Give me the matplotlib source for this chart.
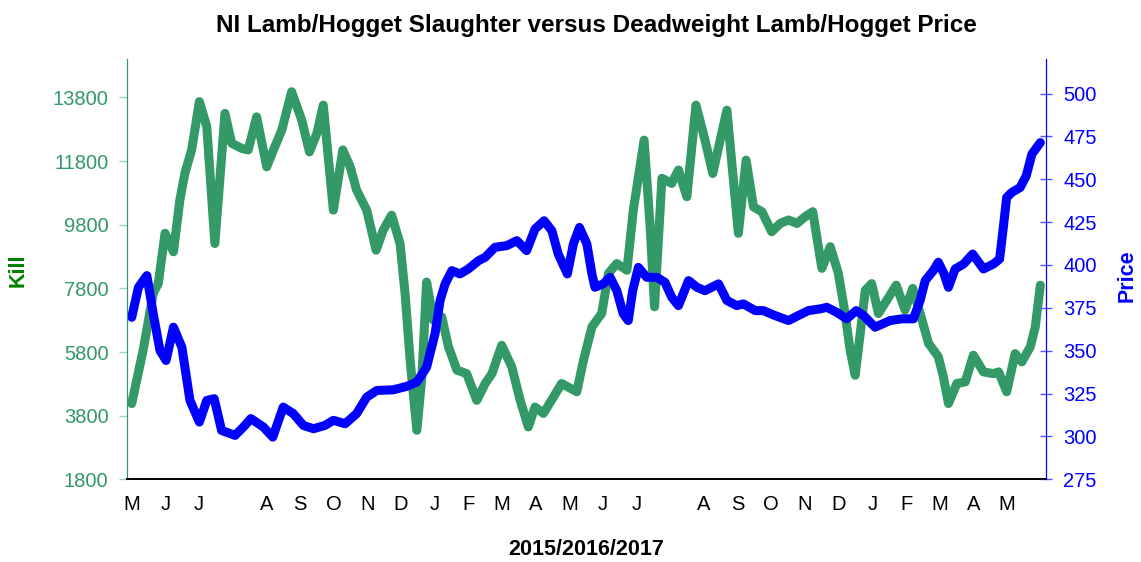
import matplotlib
matplotlib.use("Agg")
import matplotlib.pyplot as plt

plt.rcParams['font.family'] = ['Liberation Sans', 'DejaVu Sans']

GREEN = '#339966'
BLUE = '#0000ff'

# month label slots along the category axis (two slots carry no label)
month_labels = ['M', 'J', 'J', '', 'A', 'S', 'O', 'N', 'D', 'J', 'F', 'M', 'A',
                'M', 'J', 'J', '', 'A', 'S', 'O', 'N', 'D', 'J', 'F', 'M', 'A', 'M']

# lamb/hogget kill, position in month slots
kill_x = [0.00, 0.34, 0.64, 0.79, 0.99, 1.24, 1.43, 1.58, 1.78, 2.01, 2.23, 2.47,
          2.77, 2.97, 3.27, 3.46, 3.71, 4.01, 4.21, 4.46, 4.75, 5.05, 5.28, 5.50,
          5.69, 5.99, 6.27, 6.49, 6.68, 6.98, 7.26, 7.47, 7.72, 7.97, 8.12, 8.27,
          8.47, 8.62, 8.76, 8.96, 9.21, 9.41, 9.66, 9.95, 10.25, 10.50, 10.70, 10.99,
          11.29, 11.54, 11.78, 11.98, 12.23, 12.53, 12.77, 13.22, 13.42, 13.67, 13.96, 14.16,
          14.41, 14.71, 14.90, 15.22, 15.40, 15.53, 15.75, 16.04, 16.24, 16.49, 16.76, 17.03,
          17.26, 17.48, 17.68, 18.02, 18.25, 18.47, 18.72, 19.01, 19.26, 19.51, 19.76, 20.00,
          20.23, 20.50, 20.75, 20.99, 21.19, 21.34, 21.49, 21.64, 21.79, 21.98, 22.18, 22.43,
          22.71, 22.97, 23.20, 23.42, 23.67, 23.96, 24.11, 24.26, 24.51, 24.76, 25.00, 25.30,
          25.60, 25.75, 25.99, 26.24, 26.44, 26.69, 26.84, 26.99]
kill = [4180, 5860, 7640, 7960, 9530, 8950, 10575, 11420, 12150, 13670, 12880, 9210,
        13300, 12360, 12200, 12150, 13190, 11620, 12150, 12780, 13980, 13090, 12090, 12670,
        13560, 10260, 12150, 11620, 10890, 10260, 9000, 9630, 10100, 9210, 7640, 5540,
        3340, 5020, 8000, 6800, 6900, 5960, 5230, 5120, 4280, 4810, 5120, 6010,
        5330, 4280, 3445, 4070, 3870, 4390, 4810, 4550, 5540, 6590, 7010, 8270,
        8580, 8370, 10260, 12460, 9730, 7220, 11260, 11100, 11520, 10680, 13560, 12460,
        11410, 12460, 13400, 9530, 11830, 10360, 10210, 9580, 9840, 9950, 9840, 10050,
        10210, 8430, 9110, 8270, 7010, 5860, 5070, 6380, 7740, 7950, 7010, 7430,
        7900, 7120, 7800, 7010, 6070, 5650, 5020, 4180, 4810, 4860, 5700, 5175,
        5120, 5175, 4550, 5750, 5490, 5960, 6590, 7900]

# deadweight lamb/hogget price
price_x = [0.00, 0.20, 0.45, 0.64, 0.84, 1.02, 1.24, 1.49, 1.73, 2.01, 2.23, 2.45,
           2.67, 3.07, 3.32, 3.54, 3.91, 4.19, 4.50, 4.80, 5.10, 5.40, 5.74, 5.99,
           6.34, 6.68, 6.98, 7.28, 7.77, 8.17, 8.47, 8.76, 9.01, 9.16, 9.31, 9.51,
           9.75, 10.00, 10.30, 10.50, 10.79, 11.14, 11.44, 11.73, 11.98, 12.25, 12.48, 12.67,
           12.94, 13.12, 13.30, 13.52, 13.67, 13.76, 14.01, 14.21, 14.41, 14.60, 14.75, 14.88,
           15.05, 15.30, 15.60, 15.84, 16.04, 16.24, 16.54, 16.79, 17.03, 17.43, 17.68, 17.97,
           18.17, 18.52, 18.76, 19.11, 19.51, 19.80, 20.10, 20.45, 20.65, 20.94, 21.24, 21.52,
           21.74, 22.08, 22.53, 22.88, 23.22, 23.42, 23.57, 23.81, 23.96, 24.13, 24.26, 24.46,
           24.71, 24.98, 25.30, 25.60, 25.78, 25.89, 25.99, 26.14, 26.39, 26.57, 26.74, 26.99]
price = [369.5, 387.0, 393.8, 371.5, 350.1, 344.3, 363.7, 352.0, 321.0, 308.4, 321.0, 322.0,
         303.5, 300.6, 305.5, 310.4, 305.5, 299.6, 317.1, 313.3, 306.4, 304.5, 306.4, 309.4,
         307.4, 313.3, 322.9, 326.8, 327.2, 329.2, 331.7, 340.4, 359.9, 379.3, 389.0, 396.7,
         394.8, 397.7, 402.5, 404.5, 410.3, 411.3, 414.2, 408.4, 421.0, 425.8, 420.0, 406.4,
         394.8, 412.3, 421.9, 412.3, 394.8, 387.0, 389.0, 392.8, 385.0, 371.5, 367.6, 385.0,
         398.6, 392.8, 392.8, 389.9, 381.2, 376.3, 390.9, 387.0, 385.0, 389.0, 379.3, 376.3,
         377.3, 373.4, 373.4, 370.5, 367.6, 370.5, 373.4, 374.4, 375.3, 372.4, 368.6, 373.4,
         370.5, 363.7, 367.6, 368.6, 368.6, 379.3, 390.9, 396.7, 401.6, 394.8, 387.0, 397.7,
         400.6, 406.4, 397.7, 400.6, 403.5, 421.9, 439.4, 442.3, 445.2, 452.0, 464.7, 471.4]

kill_ticks = [1800, 3800, 5800, 7800, 9800, 11800, 13800]
price_ticks = [275, 300, 325, 350, 375, 400, 425, 450, 475, 500]

fig = plt.figure(figsize=(11.41, 5.62), dpi=100)
ax = fig.add_axes([0.1116, 0.1472, 0.8049, 0.7473])
ax2 = ax.twinx()

ax.plot(kill_x, kill, color=GREEN, lw=6.5, solid_joinstyle='round', solid_capstyle='round')
ax2.plot(price_x, price, color=BLUE, lw=6.5, solid_joinstyle='round', solid_capstyle='round')

ax.set_xlim(-0.13, 27.15)
ax.set_ylim(1800, 15000)
ax2.set_ylim(275, 520)

ax.set_xticks(range(len(month_labels)))
ax.set_xticklabels(month_labels)
ax.tick_params(axis='x', length=0, pad=11, labelsize=14.5, colors='black')

ax.set_yticks(kill_ticks)
ax.set_yticklabels([str(v) for v in kill_ticks])
ax.tick_params(axis='y', direction='out', length=5.5, width=1, color='#9fd0b8',
               labelcolor=GREEN, labelsize=14.5, pad=8)

ax2.set_yticks(price_ticks)
ax2.tick_params(axis='y', direction='inout', length=9, width=1, color='#5555ff',
                labelcolor=BLUE, labelsize=14.5, pad=8)

for a in (ax, ax2):
    a.spines['top'].set_visible(False)
    a.spines['left'].set_color(GREEN)
    a.spines['right'].set_color(BLUE)
    a.spines['bottom'].set_color('black')
    a.spines['bottom'].set_linewidth(1.2)

fig.text(0.523, 0.955, 'NI Lamb/Hogget Slaughter versus Deadweight Lamb/Hogget Price',
         ha='center', va='center', fontsize=17.5, fontweight='bold')
fig.text(0.514, 0.022, '2015/2016/2017', ha='center', va='center',
         fontsize=15.5, fontweight='bold')
fig.text(0.016, 0.52, 'Kill', rotation=90, ha='center', va='center',
         fontsize=15.5, fontweight='bold', color='#008000')
fig.text(0.988, 0.51, 'Price', rotation=90, ha='center', va='center',
         fontsize=15.5, fontweight='bold', color=BLUE)

fig.savefig('out.png', dpi=100)
